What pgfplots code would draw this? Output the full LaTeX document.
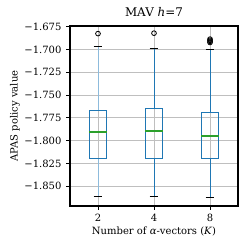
\documentclass[border=0pt]{standalone}
\usepackage{fontspec}
\setmainfont{DejaVu Serif}
\usepackage{pgfplots}
\pgfplotsset{compat=1.18}
\usepgfplotslibrary{statistics}
\definecolor{mblue}{HTML}{1F77B4}
\definecolor{mlblue}{HTML}{8DBBDC}
\definecolor{mgreen}{HTML}{2CA02C}
\begin{document}
\begin{tikzpicture}
\begin{axis}[
  name=ax,
  scale only axis,
  width=121pt, height=129.6pt,
  xmin=0.5, xmax=3.5,
  ymin=-1.8716, ymax=-1.6743,
  xtick={1,2,3}, xticklabels={2,4,8},
  ytick={-1.85,-1.825,-1.8,-1.775,-1.75,-1.725,-1.7,-1.675},
  yticklabels={−1.850,−1.825,−1.800,−1.775,−1.750,−1.725,−1.700,−1.675},
  tick label style={font=\fontsize{7.2}{8}\selectfont},
  xtick pos=bottom, ytick pos=left,
  tick align=outside,
  major tick length=2.6pt,
  every tick/.style={black, line width=0.6pt},
  axis line style={black, line width=1.1pt},
  grid=major,
  major grid style={color=black!25, line width=0.6pt},
  title={MAV \textit{h}=7},
  title style={font=\fontsize{8.6}{10}\selectfont, yshift=-3pt},
  xlabel={Number of \textit{α}-vectors (\textit{K})},
  ylabel={APAS policy value},
  label style={font=\fontsize{7.2}{8}\selectfont},
  xlabel style={yshift=3pt},
  ylabel style={yshift=-3.5pt},
  boxplot/draw direction=y,
  boxplot/box extend=0.31,
  boxplot/whisker extend=0.155,
  boxplot/draw/lower whisker/.code={%
    \draw[/pgfplots/boxplot/every whisker/.try]
      (boxplot box cs:\pgfplotsboxplotvalue{lower whisker},0.5) --
      (boxplot box cs:\pgfplotsboxplotvalue{lower quartile},0.5);
    \draw[black, line width=0.65pt]
      (boxplot whisker cs:\pgfplotsboxplotvalue{lower whisker},0) --
      (boxplot whisker cs:\pgfplotsboxplotvalue{lower whisker},1);
  },
  boxplot/draw/upper whisker/.code={%
    \draw[/pgfplots/boxplot/every whisker/.try]
      (boxplot box cs:\pgfplotsboxplotvalue{upper whisker},0.5) --
      (boxplot box cs:\pgfplotsboxplotvalue{upper quartile},0.5);
    \draw[black, line width=0.65pt]
      (boxplot whisker cs:\pgfplotsboxplotvalue{upper whisker},0) --
      (boxplot whisker cs:\pgfplotsboxplotvalue{upper whisker},1);
  },
  boxplot/draw/median/.code={%
    \draw[mgreen, line width=0.9pt]
      (boxplot box cs:\pgfplotsboxplotvalue{median},0) --
      (boxplot box cs:\pgfplotsboxplotvalue{median},1);
  },
  every axis plot/.append style={
    boxplot/every box/.style={draw=mblue, line width=0.65pt},
    mark=o, mark size=1.7pt, mark options={draw=black, fill=white, line width=0.6pt, solid},
  },
]
\addplot[mblue, line width=0.6pt, boxplot/every whisker/.style={draw=mlblue, line width=0.6pt},
  boxplot prepared={draw position=1, lower whisker=-1.8617, lower quartile=-1.8200,
    median=-1.7905, upper quartile=-1.7667, upper whisker=-1.6965}]
  table[row sep=\\, y index=0] {-1.6827\\};
\addplot[mblue, line width=0.6pt, boxplot/every whisker/.style={draw=mblue, line width=0.55pt},
  boxplot prepared={draw position=2, lower whisker=-1.8617, lower quartile=-1.8193,
    median=-1.7894, upper quartile=-1.7645, upper whisker=-1.6984}]
  table[row sep=\\, y index=0] {-1.6822\\};
\addplot[mblue, line width=0.6pt, boxplot/every whisker/.style={draw=mblue, line width=0.55pt},
  boxplot prepared={draw position=3, lower whisker=-1.8628, lower quartile=-1.8197,
    median=-1.7948, upper quartile=-1.7693, upper whisker=-1.6998}]
  table[row sep=\\, y index=0] {-1.6887\\ -1.6900\\ -1.6912\\ -1.6924\\};
\end{axis}
\pgfresetboundingbox
\useasboundingbox ([shift={(-50.4pt,-31pt)}]ax.south west) rectangle ([shift={(7.9pt,18.7pt)}]ax.north east);
\end{tikzpicture}
\end{document}
